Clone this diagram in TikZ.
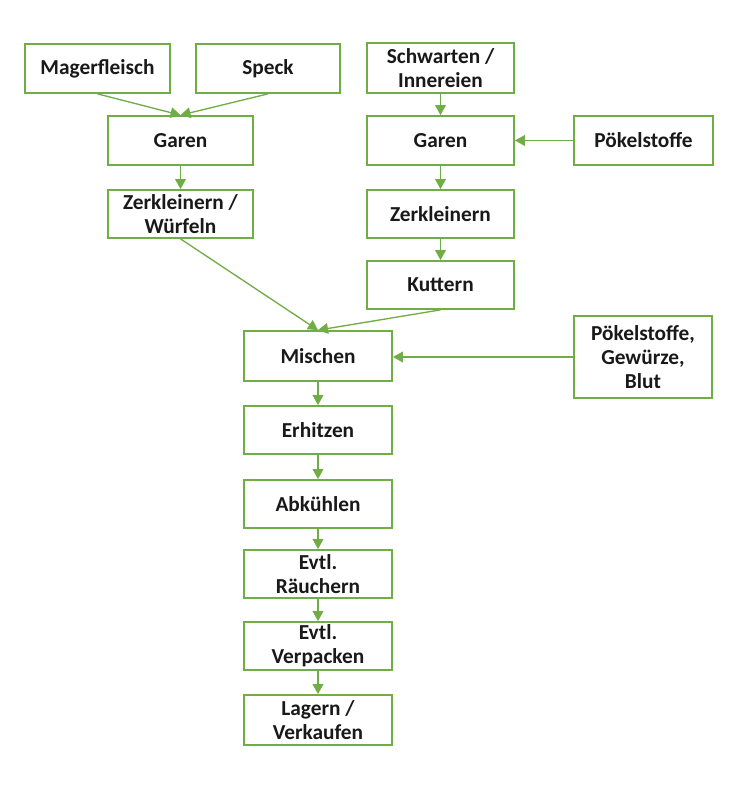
\documentclass[tikz,border=0pt]{standalone}
\usepackage{fontspec}
\setmainfont{Carlito}
\usetikzlibrary{arrows.meta}
\definecolor{grn}{HTML}{70AD47}
\tikzset{
  box/.style={draw=grn, line width=1.3pt, fill=white, align=center, inner sep=1pt,
    font=\fontsize{16}{18}\selectfont\bfseries, text=black!90},
  arr/.style={draw=grn, line width=1pt, -{Triangle[length=7.5pt,width=8pt]}},
}
\newcommand{\bx}[6]{\node[box, minimum width=#4*0.75pt, minimum height=#5*0.75pt] (#1) at (#2,#3) {#6};}
\begin{document}
\begin{tikzpicture}[x=0.75pt,y=-0.75pt]
\useasboundingbox (0,0) rectangle (737,794);
\bx{mager}{97.5}{68.5}{145}{49}{Magerfleisch}
\bx{speck}{268}{68.5}{144}{49}{Speck}
\bx{garenL}{180.5}{140.5}{145}{49}{Garen}
\bx{zerkL}{180.5}{214}{145}{48}{Zerkleinern /\\Würfeln}
\bx{schw}{440.5}{68}{147}{50}{Schwarten /\\Innereien}
\bx{garenR}{440.5}{140.5}{147}{49}{Garen}
\bx{poek}{643.5}{140.5}{139}{49}{Pökelstoffe}
\bx{zerkR}{440.5}{214}{147}{48}{Zerkleinern}
\bx{kutt}{440.5}{285}{147}{48}{Kuttern}
\bx{misch}{318}{356}{148}{50}{Mischen}
\bx{pgb}{643}{357}{138}{82}{Pökelstoffe,\\Gewürze,\\Blut}
\bx{erh}{318}{430}{148}{48}{Erhitzen}
\bx{abk}{318}{504}{148}{48}{Abkühlen}
\bx{raeu}{318}{574}{148}{48}{Evtl.\\Räuchern}
\bx{verp}{318}{646}{148}{48}{Evtl.\\Verpacken}
\bx{lag}{318}{720}{148}{50}{Lagern /\\Verkaufen}
\draw[arr] (mager.south) -- (garenL.north);
\draw[arr] (speck.south) -- (garenL.north);
\draw[arr] (garenL) -- (zerkL);
\draw[arr] (zerkL.south) -- (misch.north);
\draw[arr] (schw) -- (garenR);
\draw[arr] (poek) -- (garenR);
\draw[arr] (garenR) -- (zerkR);
\draw[arr] (zerkR) -- (kutt);
\draw[arr] (kutt.south) -- (misch.north);
\draw[arr] (pgb.west) -- (misch.east |- pgb.west);
\draw[arr] (misch) -- (erh);
\draw[arr] (erh) -- (abk);
\draw[arr] (abk) -- (raeu);
\draw[arr] (raeu) -- (verp);
\draw[arr] (verp) -- (lag);
\end{tikzpicture}
\end{document}
